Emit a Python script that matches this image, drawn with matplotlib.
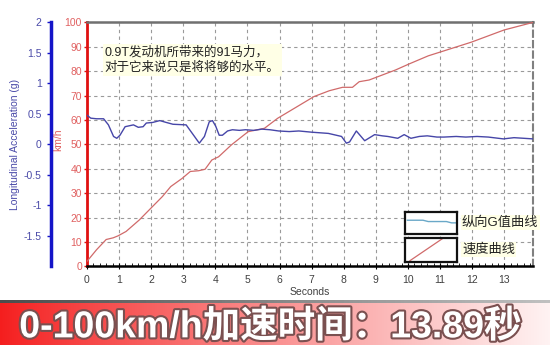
import matplotlib
matplotlib.use("Agg")
import matplotlib.pyplot as plt
import matplotlib.patheffects as pe
import numpy as np
from matplotlib.ticker import MultipleLocator

plt.rcParams["font.family"] = ["Liberation Sans", "Noto Sans CJK SC"]

# speed curve (s, km/h)
speed_t = [0, 0.3, 0.6, 0.82, 0.97, 1.22, 1.63, 1.99, 2.35, 2.61, 2.97, 3.22, 3.48,
           3.68, 3.89, 4.1, 4.5, 5.02, 5.53, 5.94, 6.55, 7.07, 7.55, 7.96,
           8.27, 8.48, 8.79, 9.61, 10.02, 10.63, 11.97, 12.99, 13.89]
speed_v = [2, 6.8, 11, 11.7, 12.5, 14.3, 19, 23.8, 28.6, 32.7, 36.1, 38.9, 39.2,
           39.8, 43.6, 44.9, 49.8, 55.2, 56.6, 60.7, 65.5, 69.6, 72, 73.4,
           73.4, 75.7, 76.4, 80.5, 82.9, 86.3, 91.9, 96.9, 100]

# longitudinal acceleration (s, g)
acc_t = [0, 0.12, 0.3, 0.52, 0.67, 0.83, 0.93, 1.03, 1.19, 1.45, 1.6, 1.75, 1.85,
         2.05, 2.27, 2.47, 2.68, 3.09, 3.35, 3.5, 3.66, 3.81, 3.91, 4.01, 4.12,
         4.22, 4.38, 4.53, 4.75, 4.94, 5.2, 5.45, 5.7, 5.97, 6.3, 6.6, 7.0,
         7.52, 7.93, 8.08, 8.18, 8.39, 8.65, 8.96, 9.2, 9.37, 9.68, 9.88,
         10.09, 10.35, 10.6, 10.9, 11.12, 11.5, 11.8, 12.15, 12.5, 12.97,
         13.3, 13.6, 13.89]
acc_g = [0.48, 0.43, 0.42, 0.42, 0.32, 0.13, 0.10, 0.15, 0.29, 0.32, 0.28, 0.29,
         0.35, 0.36, 0.39, 0.36, 0.33, 0.32, 0.13, 0.02, 0.13, 0.37, 0.39, 0.30,
         0.15, 0.15, 0.22, 0.24, 0.23, 0.24, 0.23, 0.25, 0.24, 0.22, 0.21, 0.22,
         0.20, 0.18, 0.13, 0.02, 0.04, 0.22, 0.06, 0.16, 0.14, 0.13, 0.10, 0.16,
         0.10, 0.13, 0.14, 0.12, 0.12, 0.13, 0.12, 0.13, 0.12, 0.09, 0.11, 0.10, 0.09]

speed_ticks = list(range(0, 101, 10))
acc_ticks = [-1.5, -1, -0.5, 0, 0.5, 1, 1.5, 2]
acc_labels = ["-1.5", "-1", "-0.5", "0", "0.5", "1", "1.5", "2"]
note = "0.9T发动机所带来的91马力，\n对于它来说只是将将够的水平。"
legend_labels = ["纵向G值曲线", "速度曲线"]
banner = "0-100km/h加速时间：13.89秒"

RED = "#e01010"
RED_TXT = "#e06060"
BLUE = "#1414c8"
BLUE_TXT = "#4a4aa8"

fig = plt.figure(figsize=(5.5, 3.45), dpi=100)
ax = fig.add_axes([0.158, 0.228, 0.811, 0.707])
ax.set_xlim(0, 13.89)
ax.set_ylim(0, 100)
ax.set_yticks(speed_ticks)
ax.xaxis.set_major_locator(MultipleLocator(1))
ax.xaxis.set_minor_locator(MultipleLocator(0.2))
ax.grid(True, color="#9a9a9a", linestyle=(0, (3, 3)), linewidth=0.8)
ax.tick_params(axis="y", colors=RED, labelcolor=RED_TXT, labelsize=7.5, length=2,
               width=1, pad=1.5)
ax.tick_params(axis="x", which="major", direction="inout", length=5, labelsize=7.5,
               labelcolor="#404040")
ax.tick_params(axis="x", which="minor", direction="in", length=2.5)
ax.spines["left"].set_color(RED)
ax.spines["left"].set_linewidth(2)
ax.spines["bottom"].set_color("black")
ax.spines["bottom"].set_linewidth(1.8)
ax.spines["top"].set_color("#707070")
ax.spines["top"].set_linewidth(1.8)
ax.spines["right"].set_color("#808080")
ax.spines["right"].set_linestyle((0, (3, 2)))
ax.spines["right"].set_linewidth(1.5)
ax.set_ylabel("km/h", color=RED_TXT, fontsize=7.5)
ax.yaxis.set_label_coords(-0.052, 0.52)
ax.set_xlabel("Seconds", fontsize=7.5, color="#404040", labelpad=2)

ax.plot(speed_t, speed_v, color="#d06a6a", linewidth=0.9, zorder=3)

ax2 = ax.twinx()
ax2.set_ylim(-2, 2)
ax2.set_yticks(acc_ticks)
ax2.set_yticklabels(acc_labels)
ax2.yaxis.set_ticks_position("left")
ax2.yaxis.set_label_position("left")
ax2.spines["left"].set_visible(True)
ax2.spines["left"].set_position(("outward", 26))
ax2.spines["left"].set_color(BLUE)
ax2.spines["left"].set_linewidth(2.5)
for s in ["right", "top", "bottom"]:
    ax2.spines[s].set_visible(False)
ax2.tick_params(axis="y", colors=BLUE, labelcolor=BLUE_TXT, labelsize=7.5, length=3, width=1)
ax2.set_ylabel("Longitudinal Acceleration (g)", color=BLUE_TXT, fontsize=7.5)
ax2.yaxis.set_label_coords(-0.15, 0.5)
ax2.plot(acc_t, acc_g, color="#4646a8", linewidth=1.0, zorder=3)

ax2.text(0.04, 0.845, note, transform=ax.transAxes, fontsize=9, color="#222222",
         va="center", ha="left", linespacing=1.3,
         bbox=dict(facecolor="#ffffe6", edgecolor="none", pad=1.5))

# legend keys
key_boxes = [[0.736, 0.322, 0.0945, 0.064], [0.736, 0.241, 0.0945, 0.070]]
for i, rect in enumerate(key_boxes):
    kax = fig.add_axes(rect)
    kax.set_xlim(0, 1)
    kax.set_ylim(0, 1)
    kax.set_xticks([])
    kax.set_yticks([])
    for s in kax.spines.values():
        s.set_linewidth(1.6)
        s.set_color("#111111")
    if i == 0:
        kax.plot([0.05, 0.35, 0.45, 0.8, 0.9, 1.0], [0.62, 0.62, 0.56, 0.56, 0.5, 0.5],
                 color="#6aa8c8", linewidth=1.0)
    else:
        kax.plot([0.1, 0.75], [0.05, 1.0], color="#d06a6a", linewidth=0.9)
    fig.text(0.84, rect[1] + rect[3] / 2, legend_labels[i], fontsize=9.5, color="#222222",
             va="center", ha="left",
             bbox=dict(facecolor="#ffffe6", edgecolor="none", pad=1.0))

# banner at the bottom
bax = fig.add_axes([0, 0, 1, 42 / 345])
grad = np.linspace(0, 1, 256)
r = 0.96 + 0.04 * grad
g = 0.12 + 0.83 * grad ** 0.9
b = 0.12 + 0.83 * grad ** 0.9
img = np.dstack([r, g, b])[0]
bax.imshow(img[np.newaxis, :, :], aspect="auto", extent=[0, 1, 0, 1])
bax.set_xlim(0, 1)
bax.set_ylim(0, 1)
bax.axis("off")
bax.text(0.035, 0.42, banner, fontsize=27, fontweight="bold", color="white",
         ha="left", va="center",
         path_effects=[pe.withStroke(linewidth=3, foreground="#7a5050")])

sax = fig.add_axes([0, 42 / 345, 1, 3 / 345])
sax.imshow(np.linspace(0.3, 0.75, 64)[np.newaxis, :], cmap="gray", vmin=0, vmax=1,
           aspect="auto", extent=[0, 1, 0, 1])
sax.axis("off")

fig.savefig("out.png", dpi=100)
